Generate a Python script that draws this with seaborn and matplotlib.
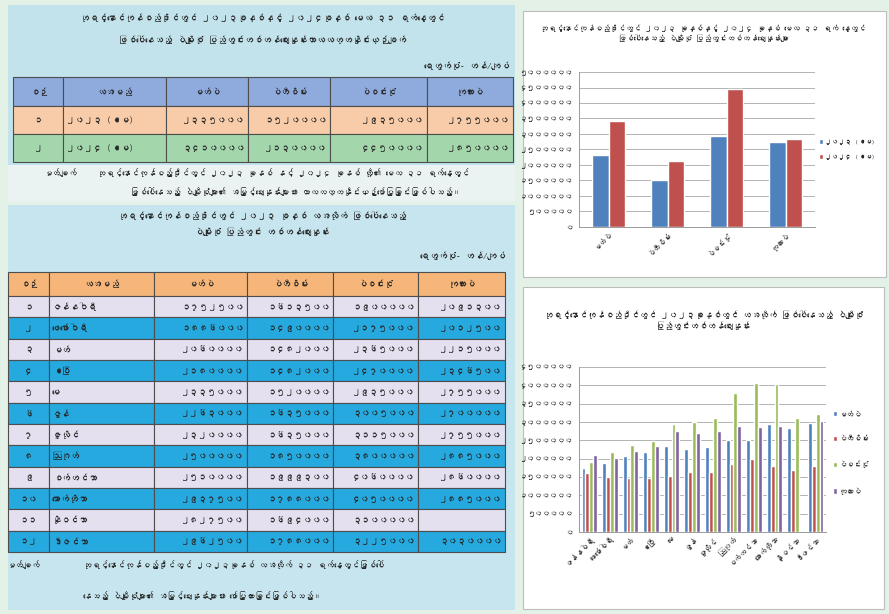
import numpy as np
import pandas as pd
import matplotlib
matplotlib.use("Agg")
import matplotlib.pyplot as plt
from matplotlib import font_manager
from matplotlib.ft2font import FT2Font
from matplotlib.patches import Rectangle
from matplotlib.ticker import FuncFormatter, MultipleLocator
import seaborn as sns

W, H = 889, 614

# --- data -------------------------------------------------------------
crops = ["မတ်ပဲ", "ပဲတီစိမ်း", "ပဲစင်းငုံ", "ကုလားပဲ"]
years = ["၂၀၂၃ (ဧမ)", "၂၀၂၄ (ဧမ)"]
may_2023 = [2335000, 1520000, 2935000, 2755000]
may_2024 = [3410000, 2130000, 4450000, 2850000]

months = ["ဇန်နဝါရီ", "ဖေဖော်ဝါရီ", "မတ်", "ဧပြီ", "မေ", "ဇွန်",
          "ဇူလိုင်", "ဩဂုတ်", "စက်တင်ဘာ", "အောက်တိုဘာ", "နိုဝင်ဘာ", "ဒီဇင်ဘာ"]
mat_pe = [1752500, 1886000, 2060000, 2180000, 2335000, 2263000,
          2320000, 2500000, 2510000, 2937500, 2827500, 2962500]
pe_ti_sein = [1613500, 1490000, 1482000, 1482000, 1520000, 1635000,
              1635000, 1850000, 1999300, 1788000, 1694000, 1788000]
pe_sin_ngone = [1900000, 2175000, 2365000, 2470000, 2935000, 3005000,
                3115000, 3800000, 4060000, 4050000, 3100000, 3225000]
ku_lar_pe = [2091300, 2012500, 2215000, 2346500, 2755000, 2700000,
             2755000, 2885000, 2860000, 2885000, np.nan, 3030000]

header = ["စဉ်", "လအမည်"] + crops
unit_text = "ရေတွက်ပုံ- တန်/ကျပ်"
note_label = "မှတ်ချက်"

title_top = ["ဘုရင့်နောင်ကုန်စည်ဒိုင်တွင် ၂၀၂၃ခုနှစ်နှင့် ၂၀၂၄ခုနှစ် မေလ ၃၁ ရက်နေ့တွင်",
             "ဖြစ်ပေါ်နေသည့် ပဲမျိုးစုံ ပြည်တွင်းတစ်တန်ဈေးနှုန်းကာလလတ္တနှိုင်းယှဉ်ချက်"]
note_top = ["ဘုရင့်နောင်ကုန်စည်ဒိုင်တွင် ၂၀၂၃ ခုနှစ် နှင့် ၂၀၂၄ ခုနှစ် တို့၏ မေလ ၃၁ ရက်နေ့တွင်",
            "ဖြစ်ပေါ်နေသည့် ပဲမျိုးစုံများ၏ အမြင့်ဈေးနှုန်းများအား ကာလလတ္တနှိုင်းယှဉ်ဖော်ပြခြင်းဖြစ်ပါသည်။"]
title_month = ["ဘုရင့်နောင်ကုန်စည်ဒိုင်တွင် ၂၀၂၃ ခုနှစ် လအလိုက် ဖြစ်ပေါ်နေသည့်",
               "ပဲမျိုးစုံ ပြည်တွင်း တစ်တန်ဈေးနှုန်း"]
note_month = ["ဘုရင့်နောင်ကုန်စည်ဒိုင်တွင် ၂၀၂၃ခုနှစ် လအလိုက် ၃၁ ရက်နေ့တွင်ဖြစ်ပေါ်",
              "နေသည့် ပဲမျိုးစုံများ၏ အမြင့်ဈေးနှုန်းများအား ဖော်ပြထားခြင်းဖြစ်ပါသည်။"]
chart1_title = "ဘုရင့်နောင်ကုန်စည်ဒိုင်တွင် ၂၀၂၃ ခုနှစ်နှင့် ၂၀၂၄ ခုနှစ် မေလ ၃၁ ရက် နေ့တွင်\nဖြစ်ပေါ်နေသည့် ပဲမျိုးစုံ ပြည်တွင်းတစ်တန်ဈေးနှုန်းများ"
chart2_title = "ဘုရင့်နောင်ကုန်စည်ဒိုင်တွင် ၂၀၂၃ခုနှစ်တွင် လအလိုက် ဖြစ်ပေါ်နေသည့် ပဲမျိုးစုံ\nပြည်တွင်းတစ်တန်ဈေးနှုန်း"

bar_colors = ["#4f81bd", "#c0504d", "#9bbb59", "#8064a2"]


def to_mm(n):
    return str(int(round(n))).translate(str.maketrans("0123456789", "၀၁၂၃၄၅၆၇၈၉"))


def find_myanmar_font():
    for f in font_manager.fontManager.ttflist:
        try:
            if 0x1000 in FT2Font(f.fname).get_charmap():
                return f.name
        except Exception:
            pass
    return None


def box(x0, y0, x1, y1):
    return [x0 / W, 1 - y1 / H, (x1 - x0) / W, (y1 - y0) / H]


def draw_table(ax, top, head_h, row_h, col_x, rows, head_color, row_colors, fs):
    y = top
    for j, name in enumerate(header):
        ax.add_patch(Rectangle((col_x[j], y), col_x[j + 1] - col_x[j], head_h,
                               fc=head_color, ec="#4d4d4d", lw=0.8))
        ax.text((col_x[j] + col_x[j + 1]) / 2, y + head_h / 2, name,
                ha="center", va="center", fontsize=fs)
    y += head_h
    for i, row in enumerate(rows):
        color = row_colors[i % len(row_colors)]
        for j, val in enumerate(row):
            x0, x1 = col_x[j], col_x[j + 1]
            ax.add_patch(Rectangle((x0, y), x1 - x0, row_h, fc=color, ec="#4d4d4d", lw=0.8))
            if j == 0:
                ax.text((x0 + x1) / 2, y + row_h / 2, val, ha="center", va="center", fontsize=fs)
            elif j == 1:
                ax.text(x0 + 3, y + row_h / 2, val, ha="left", va="center", fontsize=fs)
            else:
                ax.text(x1 - 3, y + row_h / 2, val, ha="right", va="center", fontsize=fs)
        y += row_h


def style_chart(ax, ymax, ncat):
    ax.set_ylim(0, ymax)
    ax.set_xlim(-0.5, ncat - 0.5)
    ax.yaxis.set_major_locator(MultipleLocator(500000))
    ax.yaxis.set_major_formatter(FuncFormatter(lambda v, p: to_mm(v)))
    ax.yaxis.grid(True, color="#a6a6a6", lw=0.6)
    ax.set_axisbelow(True)
    for s in ["top", "right"]:
        ax.spines[s].set_visible(False)
    for s in ["left", "bottom"]:
        ax.spines[s].set_color("#9a9a9a")
        ax.spines[s].set_linewidth(0.7)
    ax.set_xlabel("")
    ax.set_ylabel("")
    ax.tick_params(axis="y", labelsize=5.5, length=2.5, color="#9a9a9a", pad=2)
    ax.tick_params(axis="x", labelsize=5.5, length=0, pad=2)
    ax.set_xticks(np.arange(-0.5, ncat), minor=True)
    ax.tick_params(axis="x", which="minor", length=3, color="#9a9a9a")
    for lab in ax.get_xticklabels():
        lab.set_rotation(45)
        lab.set_ha("right")
        lab.set_rotation_mode("anchor")


sns.set_theme(style="white")
mm_font = find_myanmar_font()
plt.rcParams["font.family"] = ([mm_font] if mm_font else []) + ["DejaVu Sans"]

fig = plt.figure(figsize=(W / 100, H / 100), dpi=100, facecolor="#e3f1e7")

# --- background panels, tables and notes --------------------------------
bg = fig.add_axes([0, 0, 1, 1])
bg.set_xlim(0, W)
bg.set_ylim(H, 0)
bg.axis("off")

bg.add_patch(Rectangle((8, 5), 507, 160, fc="#c2e3ec", ec="none"))
bg.add_patch(Rectangle((8, 165), 507, 37, fc="#eaf3f1", ec="none"))
bg.add_patch(Rectangle((8, 205), 507, 405, fc="#c6e5ee", ec="none"))
bg.add_patch(Rectangle((523, 11), 363, 266, fc="white", ec="#bdbdbd", lw=0.8))
bg.add_patch(Rectangle((523, 287), 361, 322, fc="white", ec="#bdbdbd", lw=0.8))

# top comparison table
bg.text(262, 18, title_top[0], ha="center", va="center", fontsize=6.5)
bg.text(262, 40, title_top[1], ha="center", va="center", fontsize=6.5)
bg.text(510, 66, unit_text, ha="right", va="center", fontsize=6.5)
rows_top = [[to_mm(1), years[0]] + [to_mm(v) for v in may_2023],
            [to_mm(2), years[1]] + [to_mm(v) for v in may_2024]]
draw_table(bg, 77, 29, 28, [13, 63, 166, 248, 330, 427, 513], rows_top,
           "#8faadc", ["#f8cca8", "#a3d6ab"], 6.5)
bg.text(60, 173, note_label, ha="center", va="center", fontsize=6, weight="bold")
bg.text(97, 173, note_top[0], ha="left", va="center", fontsize=6)
bg.text(130, 192, note_top[1], ha="left", va="center", fontsize=6)

# monthly table
bg.text(262, 215, title_month[0], ha="center", va="center", fontsize=6.5)
bg.text(262, 232, title_month[1], ha="center", va="center", fontsize=6.5)
bg.text(505, 255, unit_text, ha="right", va="center", fontsize=6.5)
rows_month = []
for i, m in enumerate(months):
    vals = [mat_pe[i], pe_ti_sein[i], pe_sin_ngone[i], ku_lar_pe[i]]
    rows_month.append([to_mm(i + 1), m] + ["" if np.isnan(v) else to_mm(v) for v in vals])
draw_table(bg, 272, 24, 21.33, [8, 49, 154, 247, 333, 418, 505], rows_month,
           "#f6b679", ["#e4e0ef", "#25a9de"], 6.5)
bg.text(23, 565, note_label, ha="center", va="center", fontsize=6, weight="bold")
bg.text(83, 565, note_month[0], ha="left", va="center", fontsize=6)
bg.text(83, 596, note_month[1], ha="left", va="center", fontsize=6)

# --- chart 1: 2023 vs 2024 ---------------------------------------------
df1 = pd.DataFrame({
    "crop": crops * 2,
    "year": [years[0]] * 4 + [years[1]] * 4,
    "price": may_2023 + may_2024,
})
ax1 = fig.add_axes(box(579, 72, 815, 227))
sns.barplot(data=df1, x="crop", y="price", hue="year", order=crops, hue_order=years,
            palette=bar_colors[:2], width=0.55, saturation=1, errorbar=None, ax=ax1)
style_chart(ax1, 5000000, len(crops))
ax1.legend(loc="center left", bbox_to_anchor=(1.0, 0.5), frameon=False, fontsize=4.8,
           handlelength=0.6, handleheight=0.7, handletextpad=0.3, labelspacing=1.4,
           borderaxespad=0.2)
fig.text(703 / W, 1 - 33 / H, chart1_title, ha="center", va="center", fontsize=5.6,
         linespacing=1.2)

# --- chart 2: monthly prices -------------------------------------------
df2 = pd.DataFrame({
    "month": months * 4,
    "crop": np.repeat(crops, len(months)),
    "price": mat_pe + pe_ti_sein + pe_sin_ngone + ku_lar_pe,
})
ax2 = fig.add_axes(box(579, 367, 826, 532))
sns.barplot(data=df2, x="month", y="price", hue="crop", order=months, hue_order=crops,
            palette=bar_colors, width=0.75, saturation=1, errorbar=None, ax=ax2)
style_chart(ax2, 4500000, len(months))
ax2.legend(loc="center left", bbox_to_anchor=(1.0, 0.48), frameon=False, fontsize=5.5,
           handlelength=0.5, handleheight=0.7, handletextpad=0.3, labelspacing=2.4)
fig.text(703 / W, 1 - 320 / H, chart2_title, ha="center", va="center", fontsize=6.2,
         linespacing=1.3)

fig.savefig("out.png", dpi=100, facecolor=fig.get_facecolor())
